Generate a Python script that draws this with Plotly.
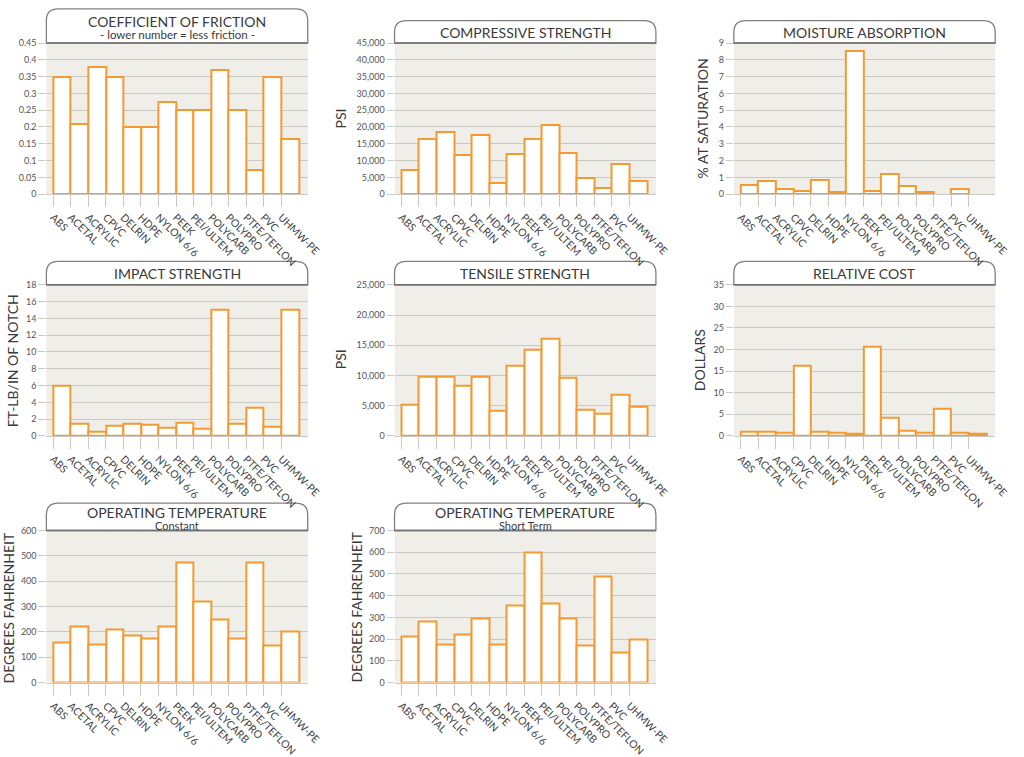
import plotly.graph_objects as go

W, H = 1024, 757

materials = ["ABS", "ACETAL", "ACRYLIC", "CPVC", "DELRIN", "HDPE", "NYLON 6/6", "PEEK",
             "PEI/ULTEM", "POLYCARB", "POLYPRO", "PTFE/TEFLON", "PVC", "UHMW-PE"]

friction = [0.35, 0.21, 0.38, 0.35, 0.20, 0.20, 0.275, 0.25, 0.25, 0.37, 0.25, 0.072, 0.35, 0.165]
compressive = [7300, 16300, 18500, 11600, 17700, 3300, 11800, 16500, 20700, 12100, 4800, 1800, 8900, 3800]
moisture = [0.55, 0.8, 0.3, 0.2, 0.85, 0.15, 8.5, 0.2, 1.2, 0.5, 0.15, 0, 0.3, 0]
impact = [6.0, 1.4, 0.45, 1.2, 1.45, 1.3, 1.0, 1.6, 0.8, 15.0, 1.5, 3.3, 1.1, 15.05]
tensile = [5200, 9700, 9800, 8300, 9800, 4100, 11600, 14300, 16000, 9600, 4300, 3600, 6800, 4800]
cost = [0.9, 0.9, 0.7, 16.3, 0.9, 0.7, 0.5, 20.7, 4.1, 1.3, 0.7, 6.2, 0.7, 0.5]
temp_constant = [160, 220, 150, 210, 185, 175, 220, 475, 320, 250, 175, 475, 145, 200]
temp_short = [210, 280, 175, 220, 295, 175, 355, 600, 365, 295, 170, 490, 140, 200]

# panel definitions: (values, title, subtitle, ytitle, ymax, dtick, tickformat)
panels = [
    (friction, "COEFFICIENT OF FRICTION", "- lower number = less friction -", "", 0.45, 0.05, ""),
    (compressive, "COMPRESSIVE STRENGTH", "", "PSI", 45000, 5000, ",d"),
    (moisture, "MOISTURE ABSORPTION", "", "% AT SATURATION", 9, 1, ""),
    (impact, "IMPACT STRENGTH", "", "FT-LB/IN OF NOTCH", 18, 2, ""),
    (tensile, "TENSILE STRENGTH", "", "PSI", 25000, 5000, ",d"),
    (cost, "RELATIVE COST", "", "DOLLARS", 35, 5, ""),
    (temp_constant, "OPERATING TEMPERATURE", "Constant", "DEGREES FAHRENHEIT", 600, 100, ""),
    (temp_short, "OPERATING TEMPERATURE", "Short Term", "DEGREES FAHRENHEIT", 700, 100, ""),
]

# layout geometry in pixels
col_left = [47, 400, 744]
plot_w = 265
rows = [(38, 193), (286, 441), (538, 694)]
header_top = [[3, 15, 15], [262, 262, 262], [510, 510, 510]]
ytitle_x = [[None, 345, 712], [13, 346, 710], [9, 361, None]]
ytitle_y = [[None, 115, 115], [None, 362, 363], [617, 617, None]]

ORANGE = "#F39A32"
GRID = "#C9C9C3"
BG = "#EFEEE9"
TXT = "#444444"
FONT = "Lato"

fig = go.Figure()
layout = dict(
    width=W, height=H, margin=dict(l=0, r=0, t=0, b=0),
    paper_bgcolor="white", plot_bgcolor=BG, showlegend=False,
    font=dict(family=FONT, color=TXT),
    bargap=0,
)
shapes = []
annotations = []


def fx(px):
    return px / W


def fy(py):
    return 1 - py / H


bar_px = 249 / 14.0
pad_l = 7

for i, (vals, title, sub, ytitle, ymax, dtick, tfmt) in enumerate(panels):
    r, c = divmod(i, 3)
    L = col_left[c]
    R = L + plot_w
    top, bottom = rows[r]
    n = i + 1
    xa = "x" if n == 1 else f"x{n}"
    ya = "y" if n == 1 else f"y{n}"
    fig.add_trace(go.Bar(
        x=materials, y=vals, xaxis=xa, yaxis=ya,
        offset=0, width=1,
        marker=dict(color="white",
                    line=dict(color=ORANGE, width=[2 if v > 0 else 0 for v in vals])),
        cliponaxis=False, hoverinfo="x+y",
    ))
    xkey = "xaxis" if n == 1 else f"xaxis{n}"
    ykey = "yaxis" if n == 1 else f"yaxis{n}"
    layout[xkey] = dict(
        domain=[fx(L), fx(R)], anchor=ya, type="category",
        range=[-pad_l / bar_px, (plot_w - pad_l) / bar_px],
        showgrid=False, showline=True, linecolor=GRID, linewidth=1,
        ticks="outside", ticklen=12, tickcolor=GRID, tickwidth=1,
        tickangle=45, tickfont=dict(size=10.5, color=TXT, family=FONT),
        fixedrange=True,
    )
    layout[ykey] = dict(
        domain=[fy(bottom), fy(top)], anchor=xa,
        range=[0, ymax], dtick=dtick, tick0=0, tickformat=tfmt,
        showgrid=True, gridcolor=GRID, gridwidth=1, zeroline=False,
        ticks="outside", ticklen=7, tickcolor=GRID,
        tickfont=dict(size=9, color="#555555", family=FONT),
        fixedrange=True,
    )
    # header box with rounded top corners
    ht = header_top[r][c]
    rad = 12
    p = (f"M {fx(L)},{fy(top)} L {fx(L)},{fy(ht + rad)} "
         f"Q {fx(L)},{fy(ht)} {fx(L + rad)},{fy(ht)} "
         f"L {fx(R - rad)},{fy(ht)} Q {fx(R)},{fy(ht)} {fx(R)},{fy(ht + rad)} "
         f"L {fx(R)},{fy(top)} Z")
    shapes.append(dict(type="path", path=p, xref="paper", yref="paper",
                       fillcolor="white", line=dict(color="#808080", width=1.3), layer="below"))
    shapes.append(dict(type="line", xref="paper", yref="paper",
                       x0=fx(L), x1=fx(R), y0=fy(top), y1=fy(top),
                       line=dict(color="#6E6E6E", width=1.5)))
    cx = fx((L + R) / 2)
    if sub:
        if i == 0:
            ty, sy, ts, ss = 16, 29.5, 14, 11.5
        else:
            ty, sy, ts, ss = 519.5, 532.5, 14, 11
        annotations.append(dict(text=title, x=cx, y=fy(ty), xref="paper", yref="paper",
                                showarrow=False, font=dict(size=ts, color="#3A3A3A", family=FONT),
                                xanchor="center", yanchor="middle"))
        annotations.append(dict(text=sub, x=cx, y=fy(sy), xref="paper", yref="paper",
                                showarrow=False, font=dict(size=ss, color="#3A3A3A", family=FONT),
                                xanchor="center", yanchor="middle"))
    else:
        annotations.append(dict(text=title, x=cx, y=fy((ht + top) / 2 + 0.5), xref="paper", yref="paper",
                                showarrow=False, font=dict(size=14, color="#3A3A3A", family=FONT),
                                xanchor="center", yanchor="middle"))
    tx = ytitle_x[r][c]
    if ytitle and tx is not None:
        tyy = ytitle_y[r][c] if ytitle_y[r][c] is not None else (top + bottom) / 2
        annotations.append(dict(text=ytitle, x=fx(tx), y=fy(tyy),
                                xref="paper", yref="paper", showarrow=False, textangle=-90,
                                font=dict(size=14, color="#3A3A3A", family=FONT),
                                xanchor="center", yanchor="middle"))

layout["shapes"] = shapes
layout["annotations"] = annotations
fig.update_layout(**layout)
post = ("document.documentElement.style.margin='0';"
        "document.documentElement.style.padding='0';"
        "document.documentElement.style.overflow='hidden';"
        "document.body.style.margin='0';document.body.style.padding='0';"
        "document.body.style.overflow='hidden';"
        "var gd=document.getElementById('{plot_id}');"
        "gd.style.position='fixed';gd.style.left='0px';gd.style.top='0px';")
fig.write_html("out.html", config={"displayModeBar": False}, post_script=post)
